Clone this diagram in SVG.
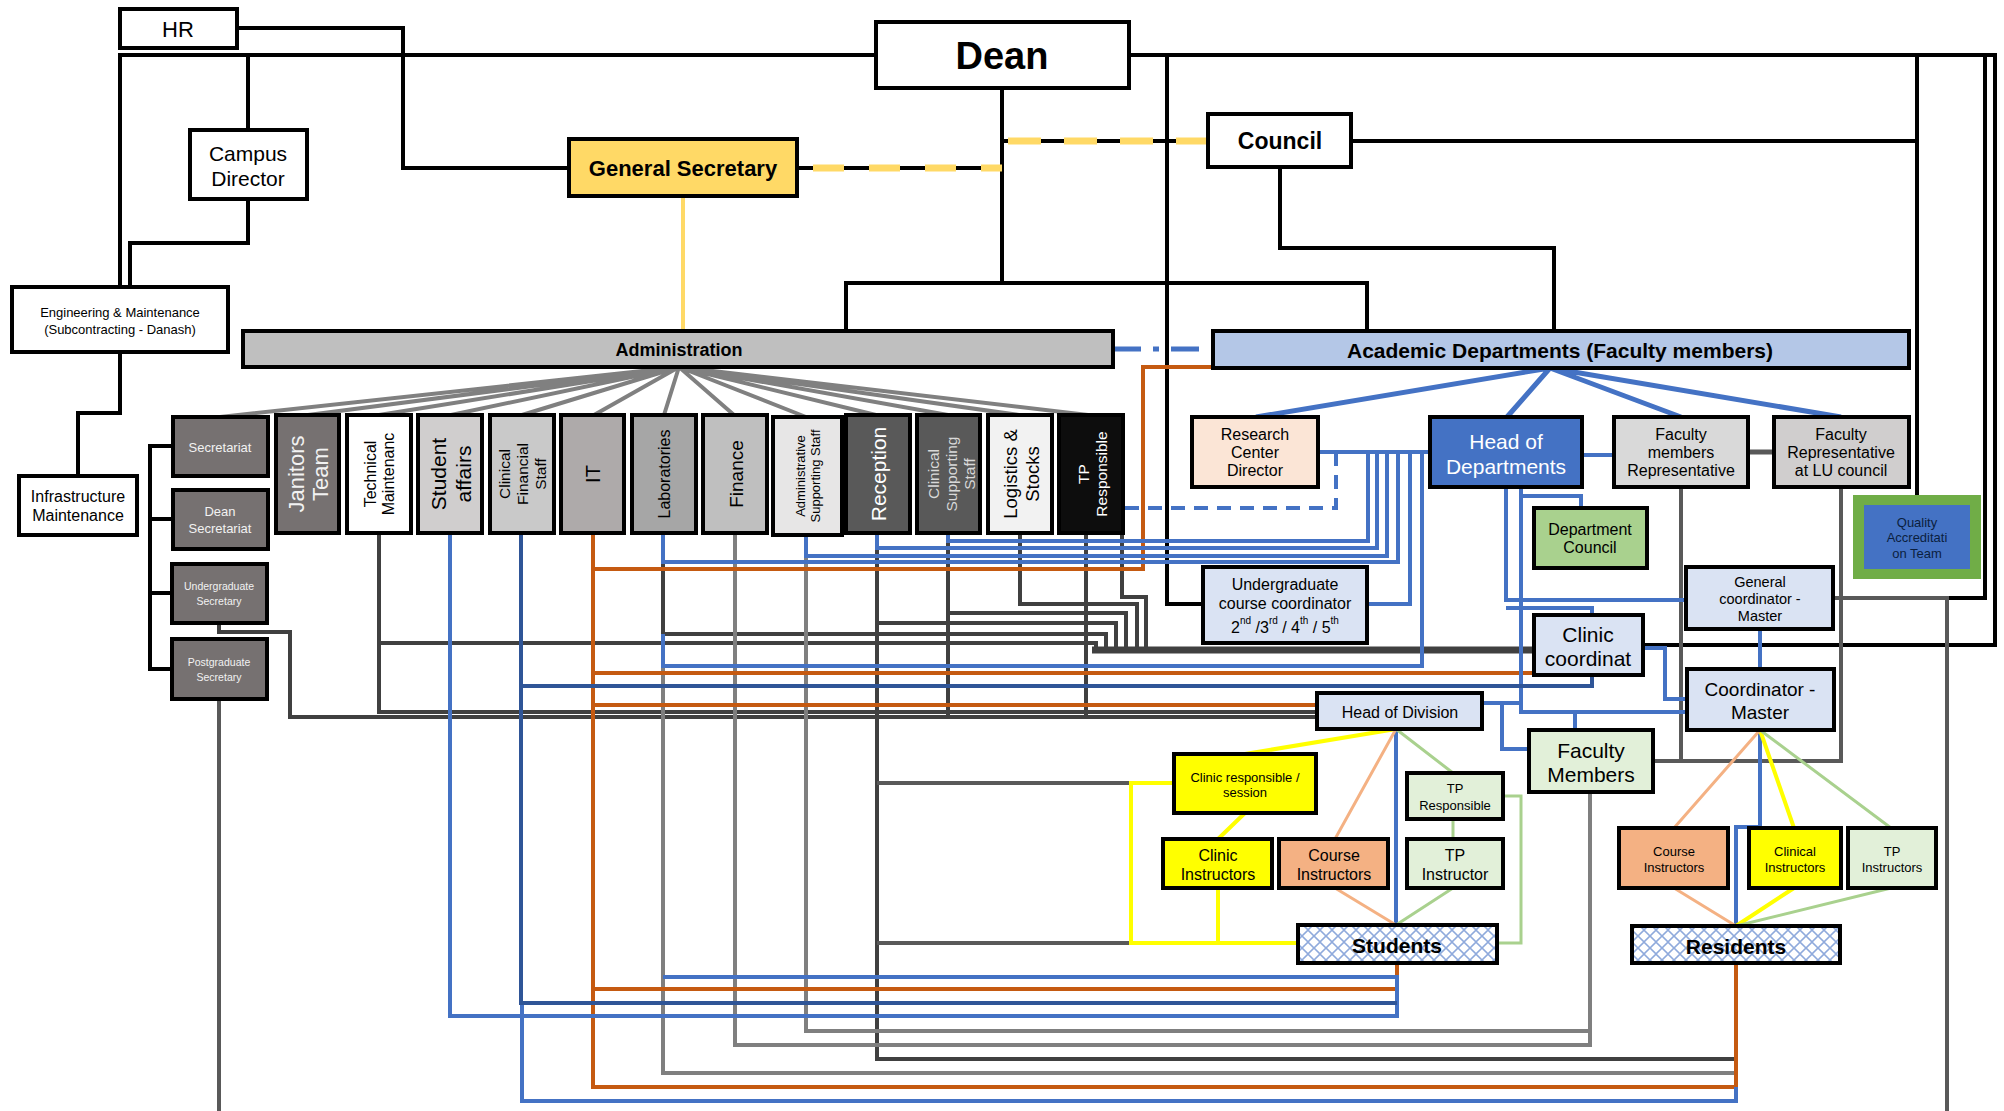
<svg xmlns="http://www.w3.org/2000/svg" width="2004" height="1111" viewBox="0 0 2004 1111">
<defs>
<pattern id="lattice" width="12" height="12" patternUnits="userSpaceOnUse">
<rect width="12" height="12" fill="#ffffff"/>
<path d="M0 6 L6 0 L12 6 L6 12 Z" fill="none" stroke="#8FAADC" stroke-width="1.6"/>
</pattern>
<style>
text{font-family:"Liberation Sans",Arial,sans-serif;text-anchor:middle;dominant-baseline:central;fill:#000}
.b{font-weight:bold}
.box{stroke:#000;stroke-width:4}
.c path,.c line{fill:none;stroke-linejoin:miter}
.k{stroke:#000;stroke-width:4}
.bl{stroke:#4472C4;stroke-width:4}
.db{stroke:#2F5597;stroke-width:4}
.or{stroke:#C55A11;stroke-width:4}
.dk{stroke:#404040;stroke-width:4}
.gr{stroke:#7F7F7F;stroke-width:4}
.mg{stroke:#595959;stroke-width:4}
.fan{stroke:#808080;stroke-width:4}
.bfan{stroke:#4472C4;stroke-width:5}
.ye{stroke:#FFFF00;stroke-width:4}
.pe{stroke:#F4B183;stroke-width:3}
.gn{stroke:#A9D18E;stroke-width:3}
text.w{fill:#F2F2F2}
text.wh{fill:#FFFFFF}
text.lg{fill:#D9D9D9}
text.nv{fill:#0B1F3F}
</style>
</defs>
<rect width="2004" height="1111" fill="#ffffff"/>

<g id="connectors" class="c">
<!-- black hierarchy -->
<path class="k" d="M237 28 H403 V168 H569"/>
<path class="k" d="M120 287 V55 H876"/>
<path class="k" d="M1129 55 H1995 V645 H1643"/>
<path class="k" d="M1985 55 V598 H1947"/>
<path class="k" d="M248 55 V130"/>
<path class="k" d="M248 199 V243 H130 V287"/>
<path class="k" d="M120 352 V413 H78 V476"/>
<path class="k" d="M1002 88 V283"/>
<path class="k" d="M846 331 V283 H1367 V331"/>
<path class="k" d="M1167 55 V604 H1203"/>
<path class="k" d="M1280 167 V248 H1554 V331"/>
<path class="k" d="M1351 141 H1917"/>
<path class="k" d="M1917 55 V495"/>
<path class="k" d="M797 168 H1002"/>
<path class="k" d="M1002 141 H1208"/>
<path d="M813 168 H1002" stroke="#FFD966" stroke-width="7" stroke-dasharray="31 25" fill="none"/>
<path d="M1008 141 H1208" stroke="#FFD966" stroke-width="7" stroke-dasharray="33 23" fill="none"/>
<path class="k" d="M173 446 H150 V669 H172 M150 519 H173 M150 593 H172"/>
<path d="M683 196 V331" stroke="#FFD966" stroke-width="4" fill="none"/>
<path d="M1113 349 H1213" stroke="#4472C4" stroke-width="5" stroke-dasharray="28 12 6 12" fill="none"/>

<!-- administration fan -->
<path class="fan" d="M679 367 L220 417 M679 367 L308 415 M679 367 L379 415 M679 367 L451 415 M679 367 L522 415 M679 367 L594 415 M679 367 L664 415 M679 367 L734 415 M679 367 L806 417 M679 367 L876 415 M679 367 L948 415 M679 367 L1019 415 M679 367 L1088 415"/>
<!-- academic fan -->
<path class="bfan" d="M1550 368 L1256 417 M1550 368 L1507 417 M1550 368 L1681 417 M1550 368 L1841 417"/>

<!-- gray / dark lines -->
<path class="mg" d="M219 699 V1111"/>
<path class="dk" d="M379 533 V712 H1317"/>
<path class="dk" d="M379 643 H1096 V650"/>
<path class="dk" d="M219 623 V632 H290 V717 H1317"/>
<path class="dk" d="M663 562 V634 H1106 V650"/>
<path class="dk" d="M877 548 V1059 H1736"/>
<path class="dk" d="M877 623 H1116 V650"/>
<path class="mg" d="M877 783 H1131 M877 943 H1131"/>
<path class="dk" d="M948 541 V717"/>
<path class="dk" d="M948 613 H1126 V650"/>
<path class="dk" d="M1020 533 V604 H1137 V650"/>
<path class="dk" d="M1086 533 V717"/>
<path class="dk" d="M1122 533 V597 H1146 V650"/>
<path d="M1092 650 H1534" stroke="#404040" stroke-width="7" fill="none"/>
<path class="gr" d="M663 666 V1073 H1736"/>
<path class="gr" d="M735 533 V1045 H1590 V792"/>
<path class="gr" d="M806 556 V1031 H1590"/>
<path class="mg" d="M1681 487 V761"/>
<path class="mg" d="M1841 487 V761 H1653"/>
<path class="mg" d="M1833 598 H1947 V1111"/>
<path d="M1748 452 H1774" stroke="#595959" stroke-width="5" fill="none"/>

<!-- orange -->
<path class="or" d="M1213 367 H1143 V569 H593"/>
<path class="or" d="M593 533 V1087 H1736 V963"/>
<path class="or" d="M593 673 H1534"/>
<path class="or" d="M593 705 H1317"/>
<path class="or" d="M593 989 H1397 V963"/>

<!-- blue -->
<path class="bl" d="M1318 452 H1430"/>
<path class="bl" d="M1368 452 V541 H948 V533"/>
<path class="bl" d="M1377 452 V548 H877 V533"/>
<path class="bl" d="M1387 452 V556 H806 V535"/>
<path class="bl" d="M1398 452 V562 H663 V533"/>
<path class="bl" d="M1410 452 V604 H1367"/>
<path class="bl" d="M1422 452 V666 H663 V634"/>
<path class="bl" d="M1336 452 V508 H1123" stroke-dasharray="14 9"/>
<path class="bl" d="M1122 516 V533"/>
<path class="bl" d="M1582 455 H1614"/>
<path class="bl" d="M1521 487 V496 H1581 V508"/>
<path class="bl" d="M1506 487 V600 H1686"/>
<path class="bl" d="M1506 608 H1592 V615"/>
<path class="bl" d="M1521 487 V712 H1687"/>
<path class="bl" d="M1575 712 V730"/>
<path class="bl" d="M1482 703 H1521"/>
<path class="bl" d="M1502 703 V749 H1529"/>
<path class="bl" d="M1643 648 H1665 V699 H1687"/>
<path class="bl" d="M1760 629 V669"/>
<path class="bl" d="M1760 730 V827 H1736 V926" stroke-width="3"/>
<path class="bl" d="M1396 729 V925" stroke-width="3"/>
<path class="bl" d="M450 533 V1016 H1397 V977 H663"/>
<path class="bl" d="M522 1003 V1101 H1736 V1087"/>
<path class="db" d="M521 533 V1003 H1397"/>
<path class="db" d="M521 686 H1592 V675"/>

<!-- division / master links -->
<path class="ye" d="M1396 729 L1245 754 M1245 813 L1218 839 M1218 888 V943 M1174 783 H1131 V943 H1298"/>
<path class="ye" d="M1760 730 L1794 828 M1794 888 L1736 926"/>
<path class="pe" d="M1396 729 L1335 839 M1335 888 L1396 925 M1760 730 L1674 828 M1674 888 L1736 926"/>
<path class="gn" d="M1396 729 L1453 773 M1453 819 V839 M1453 888 L1396 925 M1503 796 H1521 V943 H1497 M1760 730 L1891 828 M1891 888 L1736 926"/>
</g>

<g id="hr"><rect class="box" x="120" y="9" width="117" height="39" fill="#fff"/><text x="178" y="29" font-size="22">HR</text></g>
<g id="dean"><rect class="box" x="876" y="22" width="253" height="66" fill="#fff"/><text class="b" x="1002" y="56" font-size="38">Dean</text></g>
<g id="campus-director"><rect class="box" x="190" y="130" width="117" height="69" fill="#fff"/><text x="248" y="153" font-size="21">Campus</text><text x="248" y="178" font-size="21">Director</text></g>
<g id="general-secretary"><rect class="box" x="569" y="139" width="228" height="57" fill="#FFD966"/><text class="b" x="683" y="168" font-size="22">General Secretary</text></g>
<g id="council"><rect class="box" x="1208" y="114" width="143" height="53" fill="#fff"/><text class="b" x="1280" y="141" font-size="23">Council</text></g>
<g id="engineering"><rect class="box" x="12" y="287" width="216" height="65" fill="#fff"/><text x="120" y="312" font-size="13">Engineering &amp; Maintenance</text><text x="120" y="329" font-size="13">(Subcontracting - Danash)</text></g>
<g id="infrastructure"><rect class="box" x="19" y="476" width="118" height="59" fill="#fff"/><text x="78" y="496" font-size="16">Infrastructure</text><text x="78" y="515" font-size="16">Maintenance</text></g>
<g id="administration"><rect class="box" x="243" y="331" width="870" height="36" fill="#BFBFBF"/><text class="b" x="679" y="350" font-size="18">Administration</text></g>
<g id="academic"><rect class="box" x="1213" y="331" width="696" height="37" fill="#B4C7E7"/><text class="b" x="1560" y="350" font-size="21">Academic Departments (Faculty members)</text></g>

<g id="secretariat"><rect class="box" x="173" y="417" width="95" height="59" fill="#767171"/><text class="w" x="220" y="447" font-size="13">Secretariat</text></g>
<g id="dean-secretariat"><rect class="box" x="173" y="490" width="95" height="59" fill="#767171"/><text class="w" x="220" y="511" font-size="13">Dean</text><text class="w" x="220" y="528" font-size="13">Secretariat</text></g>
<g id="ug-secretary"><rect class="box" x="172" y="564" width="95" height="59" fill="#767171"/><text class="w" x="219" y="586" font-size="10.5">Undergraduate</text><text class="w" x="219" y="601" font-size="10.5">Secretary</text></g>
<g id="pg-secretary"><rect class="box" x="172" y="639" width="95" height="60" fill="#767171"/><text class="w" x="219" y="662" font-size="10.5">Postgraduate</text><text class="w" x="219" y="677" font-size="10.5">Secretary</text></g>

<g id="janitors"><rect class="box" x="276" y="415" width="63" height="118" fill="#767171"/><text class="w" transform="translate(296 474) rotate(-90)" font-size="22">Janitors</text><text class="w" transform="translate(320 474) rotate(-90)" font-size="22">Team</text></g>
<g id="technical"><rect class="box" x="347" y="415" width="64" height="118" fill="#fff"/><text transform="translate(370 474) rotate(-90)" font-size="16">Technical</text><text transform="translate(388 474) rotate(-90)" font-size="16">Maintenanc</text></g>
<g id="student-affairs"><rect class="box" x="418" y="415" width="64" height="118" fill="#D0CECE"/><text transform="translate(438 474) rotate(-90)" font-size="21">Student</text><text transform="translate(463 474) rotate(-90)" font-size="21">affairs</text></g>
<g id="clinical-financial"><rect class="box" x="490" y="415" width="64" height="118" fill="#C9C9C9"/><text transform="translate(504 474) rotate(-90)" font-size="15.5">Clinical</text><text transform="translate(522 474) rotate(-90)" font-size="15.5">Financial</text><text transform="translate(540 474) rotate(-90)" font-size="15.5">Staff</text></g>
<g id="it"><rect class="box" x="561" y="415" width="63" height="118" fill="#AEAAAA"/><text transform="translate(593 474) rotate(-90)" font-size="20">IT</text></g>
<g id="laboratories"><rect class="box" x="632" y="415" width="64" height="118" fill="#A6A6A6"/><text transform="translate(664 474) rotate(-90)" font-size="16">Laboratories</text></g>
<g id="finance"><rect class="box" x="703" y="415" width="64" height="118" fill="#BFBFBF"/><text transform="translate(736 474) rotate(-90)" font-size="19">Finance</text></g>
<g id="admin-supporting"><rect class="box" x="773" y="417" width="69" height="118" fill="#E7E6E6"/><text transform="translate(800 476) rotate(-90)" font-size="13">Administrative</text><text transform="translate(815 476) rotate(-90)" font-size="13">Supporting Staff</text></g>
<g id="reception"><rect class="box" x="846" y="415" width="64" height="118" fill="#595959"/><text class="wh" transform="translate(878 474) rotate(-90)" font-size="21">Reception</text></g>
<g id="clinical-supporting"><rect class="box" x="917" y="415" width="63" height="118" fill="#595959"/><text class="lg" transform="translate(933 474) rotate(-90)" font-size="15.5">Clinical</text><text class="lg" transform="translate(951 474) rotate(-90)" font-size="15.5">Supporting</text><text class="lg" transform="translate(969 474) rotate(-90)" font-size="15.5">Staff</text></g>
<g id="logistics"><rect class="box" x="988" y="415" width="64" height="118" fill="#F2F2F2"/><text transform="translate(1010 474) rotate(-90)" font-size="18.5">Logistics &amp;</text><text transform="translate(1032 474) rotate(-90)" font-size="18.5">Stocks</text></g>
<g id="tp-responsible-admin"><rect class="box" x="1059" y="415" width="64" height="118" fill="#0D0D0D"/><text class="wh" transform="translate(1083 474) rotate(-90)" font-size="15.5">TP</text><text class="wh" transform="translate(1101 474) rotate(-90)" font-size="15.5">Responsible</text></g>

<g id="research-center"><rect class="box" x="1192" y="417" width="126" height="70" fill="#FBE5D6"/><text x="1255" y="434" font-size="16">Research</text><text x="1255" y="452" font-size="16">Center</text><text x="1255" y="470" font-size="16">Director</text></g>
<g id="head-of-departments"><rect class="box" x="1430" y="417" width="152" height="70" fill="#4472C4"/><text class="wh" x="1506" y="441" font-size="21">Head of</text><text class="wh" x="1506" y="466" font-size="21">Departments</text></g>
<g id="faculty-members-rep"><rect class="box" x="1614" y="417" width="134" height="70" fill="#D9D9D9"/><text x="1681" y="434" font-size="16">Faculty</text><text x="1681" y="452" font-size="16">members</text><text x="1681" y="470" font-size="16">Representative</text></g>
<g id="faculty-rep-lu"><rect class="box" x="1774" y="417" width="135" height="70" fill="#D0CECE"/><text x="1841" y="434" font-size="16">Faculty</text><text x="1841" y="452" font-size="16">Representative</text><text x="1841" y="470" font-size="16">at LU council</text></g>
<g id="quality"><rect x="1853" y="495" width="128" height="84" fill="#70AD47"/><rect x="1864" y="505" width="106" height="64" fill="#4472C4"/><text class="nv" x="1917" y="522" font-size="13">Quality</text><text class="nv" x="1917" y="537" font-size="13">Accreditati</text><text class="nv" x="1917" y="553" font-size="13">on Team</text></g>
<g id="department-council"><rect class="box" x="1534" y="508" width="113" height="60" fill="#A9D18E"/><text x="1590" y="529" font-size="16">Department</text><text x="1590" y="547" font-size="16">Council</text></g>
<g id="general-coordinator"><rect class="box" x="1686" y="567" width="147" height="62" fill="#DAE3F3"/><text x="1760" y="582" font-size="14.5">General</text><text x="1760" y="599" font-size="14.5">coordinator -</text><text x="1760" y="616" font-size="14.5">Master</text></g>
<g id="ug-course-coordinator"><rect class="box" x="1203" y="567" width="164" height="76" fill="#DAE3F3"/><text x="1285" y="584" font-size="16">Undergraduate</text><text x="1285" y="603" font-size="16">course coordinator</text><text x="1285" y="627" font-size="16">2<tspan font-size="10" dy="-7">nd</tspan><tspan dy="7"> /3</tspan><tspan font-size="10" dy="-7">rd</tspan><tspan dy="7"> / 4</tspan><tspan font-size="10" dy="-7">th</tspan><tspan dy="7"> / 5</tspan><tspan font-size="10" dy="-7">th</tspan></text></g>
<g id="clinic-coordinator"><rect class="box" x="1534" y="615" width="109" height="60" fill="#DAE3F3"/><text x="1588" y="634" font-size="21">Clinic</text><text x="1588" y="658" font-size="21">coordinat</text></g>
<g id="coordinator-master"><rect class="box" x="1687" y="669" width="147" height="61" fill="#DAE3F3"/><text x="1760" y="689" font-size="19">Coordinator -</text><text x="1760" y="712" font-size="19">Master</text></g>
<g id="head-of-division"><rect class="box" x="1317" y="693" width="165" height="36" fill="#DAE3F3"/><text x="1400" y="712" font-size="16">Head of Division</text></g>
<g id="faculty-members"><rect class="box" x="1529" y="730" width="124" height="62" fill="#E2F0D9"/><text x="1591" y="750" font-size="21">Faculty</text><text x="1591" y="774" font-size="21">Members</text></g>
<g id="clinic-responsible"><rect class="box" x="1174" y="754" width="142" height="59" fill="#FFFF00"/><text x="1245" y="777" font-size="13">Clinic responsible /</text><text x="1245" y="792" font-size="13">session</text></g>
<g id="tp-responsible"><rect class="box" x="1407" y="773" width="96" height="46" fill="#E2F0D9"/><text x="1455" y="788" font-size="13">TP</text><text x="1455" y="805" font-size="13">Responsible</text></g>
<g id="clinic-instructors"><rect class="box" x="1163" y="839" width="109" height="49" fill="#FFFF00"/><text x="1218" y="855" font-size="16">Clinic</text><text x="1218" y="874" font-size="16">Instructors</text></g>
<g id="course-instructors"><rect class="box" x="1279" y="839" width="109" height="49" fill="#F4B183"/><text x="1334" y="855" font-size="16">Course</text><text x="1334" y="874" font-size="16">Instructors</text></g>
<g id="tp-instructor"><rect class="box" x="1407" y="839" width="96" height="49" fill="#E2F0D9"/><text x="1455" y="855" font-size="16">TP</text><text x="1455" y="874" font-size="16">Instructor</text></g>
<g id="students"><rect class="box" x="1298" y="925" width="199" height="38" fill="url(#lattice)"/><text class="b" x="1397" y="945" font-size="21">Students</text></g>
<g id="course-instructors-master"><rect class="box" x="1619" y="828" width="109" height="60" fill="#F4B183"/><text x="1674" y="851" font-size="13">Course</text><text x="1674" y="867" font-size="13">Instructors</text></g>
<g id="clinical-instructors"><rect class="box" x="1749" y="828" width="92" height="60" fill="#FFFF00"/><text x="1795" y="851" font-size="13">Clinical</text><text x="1795" y="867" font-size="13">Instructors</text></g>
<g id="tp-instructors"><rect class="box" x="1848" y="828" width="88" height="60" fill="#E2F0D9"/><text x="1892" y="851" font-size="13">TP</text><text x="1892" y="867" font-size="13">Instructors</text></g>
<g id="residents"><rect class="box" x="1632" y="926" width="208" height="37" fill="url(#lattice)"/><text class="b" x="1736" y="946" font-size="21">Residents</text></g>
</svg>
